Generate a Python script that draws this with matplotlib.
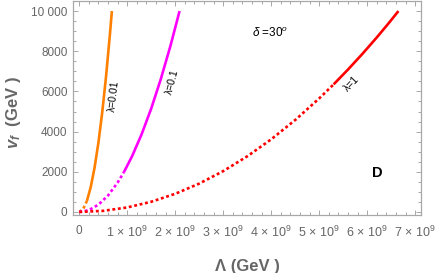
import numpy as np
import matplotlib
matplotlib.use('Agg')
import matplotlib.pyplot as plt
from matplotlib.ticker import MultipleLocator

plt.rcParams['font.family'] = ['Liberation Sans', 'DejaVu Sans']
plt.rcParams['mathtext.fontset'] = 'custom'
plt.rcParams['mathtext.rm'] = 'Liberation Sans'
plt.rcParams['mathtext.it'] = 'Liberation Sans:italic'
plt.rcParams['mathtext.bf'] = 'Liberation Sans:bold:italic'

# Lambda in units of 1e9 GeV, v_f in GeV
lam_001 = [0.0, 0.08, 0.16, 0.24, 0.32, 0.40, 0.48, 0.56, 0.64, 0.68]
vf_001 = [0, 140, 550, 1245, 2215, 3460, 4980, 6780, 8860, 10000]
lam_01 = [0.0, 0.2, 0.4, 0.6, 0.8, 0.93, 1.1, 1.3, 1.5, 1.7, 1.9, 2.09]
vf_01 = [0, 90, 365, 820, 1465, 1980, 2770, 3870, 5150, 6620, 8265, 10000]
lam_1 = [0.0, 0.5, 1.0, 1.5, 2.0, 2.5, 3.0, 3.5, 4.0, 4.5, 5.0, 5.3, 5.6, 5.9, 6.2, 6.45, 6.65]
vf_1 = [0, 57, 226, 509, 905, 1413, 2035, 2770, 3618, 4579, 5653, 6352, 7091, 7870, 8690, 9405, 10000]
split_001 = 2   # index where dotted part ends
split_01 = 5
split_1 = 11

xticks = [0, 1, 2, 3, 4, 5, 6, 7]
yticks = [0, 2000, 4000, 6000, 8000, 10000]

fig = plt.figure(figsize=(4.38, 2.73), dpi=100)
ax = fig.add_axes([73/438, 1 - 215/273, (421 - 73)/438, 214/273])

dot = (0, (1.1, 1.0))
for lam, vf, k, c in [(lam_001, vf_001, split_001, '#FF8000'),
                      (lam_01, vf_01, split_01, '#FF00FF'),
                      (lam_1, vf_1, split_1, '#FF0000')]:
    ax.plot(lam[:k + 1], vf[:k + 1], color=c, lw=1.9, ls=dot, dash_capstyle='butt')
    ax.plot(lam[k:], vf[k:], color=c, lw=1.9, solid_capstyle='butt')

ax.set_xlim(-0.13, 7.12)
ax.set_ylim(-150, 10500)

ax.set_xticks(xticks)
ax.set_xticklabels(['0'] + [r'$%d\,\times\,10^{9}$' % t for t in xticks[1:]])
ax.set_yticks(yticks)
ax.set_yticklabels(['0', '2000', '4000', '6000', '8000', '10 000'])
ax.xaxis.set_minor_locator(MultipleLocator(0.2))
ax.yaxis.set_minor_locator(MultipleLocator(500))

gray = '#A8A8A8'
for s in ax.spines.values():
    s.set_color(gray)
    s.set_linewidth(0.9)
ax.tick_params(which='both', direction='in', top=True, right=True, color=gray,
               labelcolor='#666666', labelsize=8.5, width=0.7)
ax.tick_params(which='major', length=3.5, pad=4)
ax.tick_params(which='minor', length=2)
ax.tick_params(axis='x', pad=7)
for lbl in ax.get_xticklabels()[1:]:
    lbl.set_fontsize(9)

ax.set_xlabel('Λ (GeV )', fontsize=12, fontweight='bold', color='#666666')
ax.set_ylabel(r'$\mathbf{v_f}$  (GeV )', fontsize=12, fontweight='bold', color='#666666')
ax.xaxis.set_label_coords(0.5, -0.205)
ax.yaxis.set_label_coords(-0.145, 0.48)

ax.text(0.72, 5770, 'λ=0.01', rotation=83, fontsize=7.5, ha='center', va='center')
ax.text(1.95, 6470, 'λ=0.1', rotation=75, fontsize=7.5, ha='center', va='center')
ax.text(5.68, 6370, 'λ=1', rotation=46, fontsize=7.5, ha='center', va='center')
ax.text(3.97, 8900, r'$\delta$ =30$^{o}$', fontsize=8.5, ha='center', va='center')
ax.text(6.2, 1940, 'D', fontsize=10.5, fontweight='bold', ha='center', va='center')

fig.savefig('out.png', dpi=100)
